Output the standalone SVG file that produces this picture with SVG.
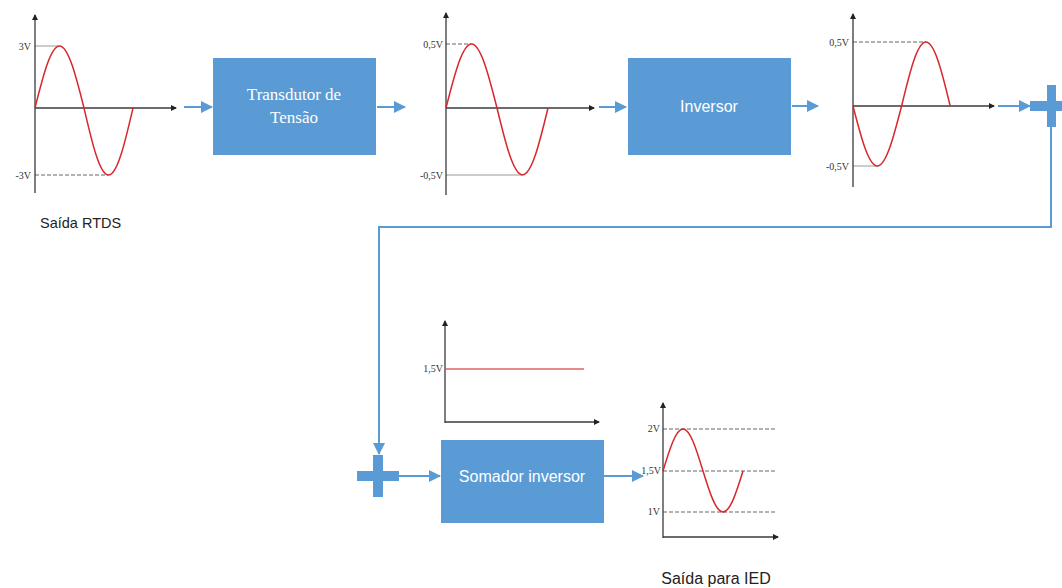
<svg xmlns="http://www.w3.org/2000/svg" width="1062" height="588" viewBox="0 0 1062 588">
<style>
.bg{fill:#ffffff}
.box{fill:#5b9bd5}
.serifw{font-family:"Liberation Serif","DejaVu Serif",serif;fill:#ffffff;font-size:17px;text-anchor:middle}
.sansw{font-family:"Liberation Sans","DejaVu Sans",sans-serif;fill:#ffffff;text-anchor:middle}
.axis{stroke:#3a3a3a;stroke-width:1.3;fill:none}
.sine{stroke:#d9262a;stroke-width:1.5;fill:none}
.ref{stroke:#9a9a9a;stroke-width:1;fill:none}
.refd{stroke:#666666;stroke-width:1;stroke-dasharray:4 2;fill:none}
.lbl{font-family:"Liberation Serif","DejaVu Serif",serif;font-size:10px;fill:#333333;text-anchor:end}
.cap{font-family:"Liberation Sans","DejaVu Sans",sans-serif;fill:#222222}
.conn{stroke:#5b9bd5;stroke-width:2;fill:none}
.plus{fill:#5b9bd5}
</style>
<defs>
<marker id="bh" viewBox="0 0 12 12" refX="11" refY="6" markerWidth="12" markerHeight="12" markerUnits="userSpaceOnUse" orient="auto">
<path d="M0,0 L12,6 L0,12 z" fill="#5b9bd5"/>
</marker>
<marker id="ah" viewBox="0 0 6 6" refX="5" refY="3" markerWidth="6" markerHeight="6" markerUnits="userSpaceOnUse" orient="auto">
<path d="M0,0 L6,3 L0,6 z" fill="#222222"/>
</marker>
</defs>
<rect class="bg" x="0" y="0" width="1062" height="588"/>

<g id="graph-rtds">
<line class="ref" x1="35" y1="46" x2="58" y2="46"/>
<line class="refd" x1="35" y1="175" x2="108" y2="175"/>
<line class="axis" x1="35" y1="193" x2="35" y2="15" marker-end="url(#ah)"/>
<line class="axis" x1="35" y1="108" x2="176" y2="108" marker-end="url(#ah)"/>
<path class="sine" d="M35,108 C43,76.2 50.6,46 59.5,46 C68.4,46 76,76.2 84,108 C92,142.3 99.6,175 108.5,175 C117.4,175 125,142.3 133,108"/>
<text class="lbl" x="31" y="50">3V</text>
<text class="lbl" x="31" y="179">-3V</text>
<text class="cap" x="40" y="228" font-size="14.5">Saída RTDS</text>
</g>

<g id="node-transdutor">
<rect class="box" x="213" y="58" width="163" height="97"/>
<text class="serifw" x="294" y="100">Transdutor de</text>
<text class="serifw" x="294" y="123">Tensão</text>
</g>

<g id="graph-transdutor">
<line class="refd" x1="446" y1="44" x2="471" y2="44"/>
<line class="ref" x1="446" y1="175" x2="522" y2="175"/>
<line class="axis" x1="446" y1="195" x2="446" y2="13" marker-end="url(#ah)"/>
<line class="axis" x1="446" y1="108" x2="594" y2="108" marker-end="url(#ah)"/>
<path class="sine" d="M446,108 C454.3,75.2 462.3,44 471.5,44 C480.7,44 488.7,75.2 497,108 C505.3,142.3 513.3,175 522.5,175 C531.7,175 539.7,142.3 548,108"/>
<text class="lbl" x="443" y="48">0,5V</text>
<text class="lbl" x="443" y="179">-0,5V</text>
</g>

<g id="node-inversor">
<rect class="box" x="628" y="58" width="163" height="97"/>
<text class="sansw" x="709" y="112" font-size="16">Inversor</text>
</g>

<g id="graph-inversor">
<line class="refd" x1="853" y1="42" x2="926" y2="42"/>
<line class="ref" x1="853" y1="166" x2="877" y2="166"/>
<line class="axis" x1="853" y1="187" x2="853" y2="14" marker-end="url(#ah)"/>
<line class="axis" x1="853" y1="106" x2="994" y2="106" marker-end="url(#ah)"/>
<path class="sine" d="M853,106 C860.9,136.7 868.5,166 877.3,166 C886.1,166 893.7,136.7 901.6,106 C909.5,73.2 917.1,42 925.9,42 C934.7,42 942.3,73.2 950.2,106"/>
<text class="lbl" x="849" y="46">0,5V</text>
<text class="lbl" x="849" y="170">-0,5V</text>
</g>

<g id="node-plus1">
<rect class="plus" x="1047" y="85" width="9" height="42"/>
<rect class="plus" x="1030" y="101" width="32" height="10"/>
</g>

<g id="node-plus2">
<rect class="plus" x="373" y="455" width="10" height="42"/>
<rect class="plus" x="357" y="471" width="42" height="10"/>
</g>

<g id="graph-constante">
<line class="axis" x1="445" y1="423" x2="445" y2="321" marker-end="url(#ah)"/>
<line class="axis" x1="445" y1="422" x2="599" y2="422" marker-end="url(#ah)"/>
<line stroke="#e06060" stroke-width="1.3" x1="446" y1="369" x2="584" y2="369"/>
<text class="lbl" x="443" y="372">1,5V</text>
</g>

<g id="node-somador">
<rect class="box" x="441" y="440" width="163" height="83"/>
<text class="sansw" x="522" y="482" font-size="16">Somador inversor</text>
</g>

<g id="graph-ied">
<line class="refd" x1="663" y1="429" x2="777" y2="429"/>
<line class="refd" x1="663" y1="471" x2="777" y2="471"/>
<line class="refd" x1="663" y1="512" x2="777" y2="512"/>
<line class="axis" x1="663" y1="538" x2="663" y2="403" marker-end="url(#ah)"/>
<line class="axis" x1="663" y1="537" x2="778" y2="537" marker-end="url(#ah)"/>
<path class="sine" d="M663,471 C669.5,449.5 675.8,429 683,429 C690.2,429 696.5,449.5 703,471 C709.5,492 715.8,512 723,512 C730.2,512 736.5,492 743,471"/>
<text class="lbl" x="660" y="432" font-size="8">2V</text>
<text class="lbl" x="661" y="474" font-size="8">1,5V</text>
<text class="lbl" x="660" y="515" font-size="8">1V</text>
<text class="cap" x="716" y="584" font-size="16" text-anchor="middle">Saída para IED</text>
</g>

<g id="connectors">
<line class="conn" x1="184" y1="107" x2="212" y2="107" marker-end="url(#bh)"/>
<line class="conn" x1="377" y1="107" x2="405" y2="107" marker-end="url(#bh)"/>
<line class="conn" x1="599" y1="107" x2="626" y2="107" marker-end="url(#bh)"/>
<line class="conn" x1="792" y1="106" x2="818" y2="106" marker-end="url(#bh)"/>
<line class="conn" x1="998" y1="106" x2="1030" y2="106" marker-end="url(#bh)"/>
<path class="conn" d="M1051,127 L1051,227 L379,227 L379,454" marker-end="url(#bh)"/>
<line class="conn" x1="399" y1="476" x2="440" y2="476" marker-end="url(#bh)"/>
<line class="conn" x1="604" y1="476" x2="643" y2="476" marker-end="url(#bh)"/>
</g>
</svg>
